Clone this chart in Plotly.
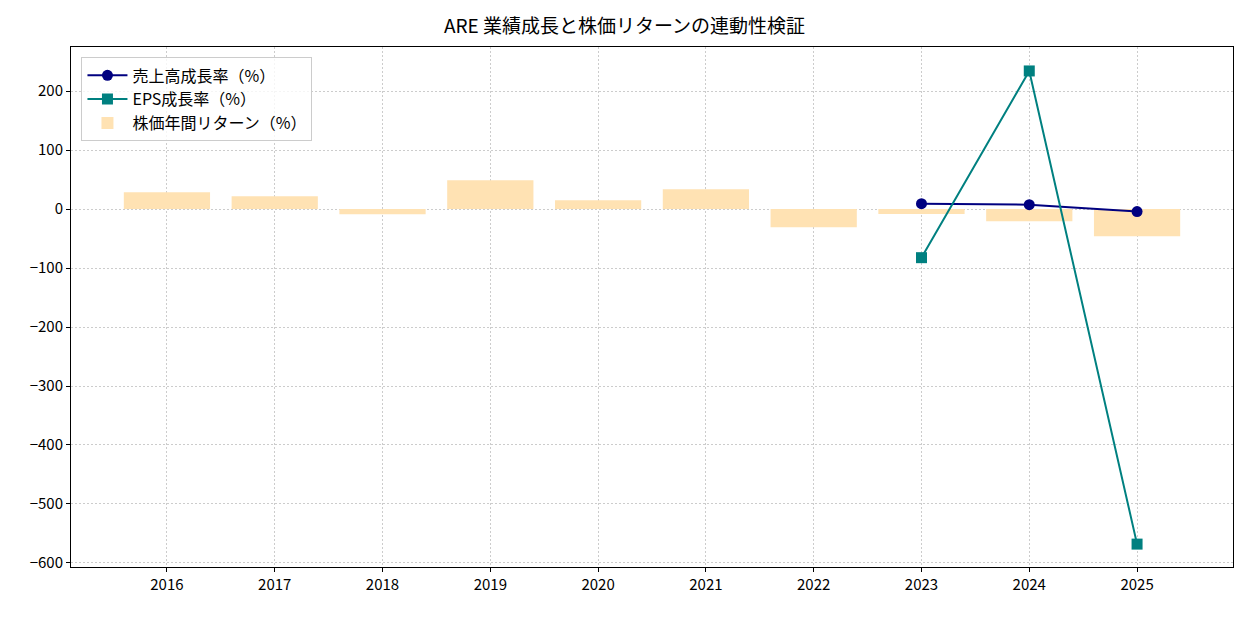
import plotly.graph_objects as go

years = [2016, 2017, 2018, 2019, 2020, 2021, 2022, 2023, 2024, 2025]
stock_return = [28.3, 21.5, -9.0, 48.6, 14.7, 33.4, -31.0, -8.5, -20.8, -46.3]
rev_years = [2023, 2024, 2025]
rev_growth = [9.0, 7.4, -4.4]
eps_growth = [-82.5, 234.0, -568.0]

FONT = "Noto Sans CJK JP"

fig = go.Figure()
fig.add_trace(go.Bar(x=years, y=stock_return, width=0.8, marker_color="#FFE2B3",
                     marker_line_width=0, name="株価年間リターン（%）", legendrank=1000))
fig.add_trace(go.Scatter(x=rev_years, y=rev_growth, mode="lines+markers",
                         line=dict(color="#000080", width=2),
                         marker=dict(symbol="circle", size=11, color="#000080"),
                         name="売上高成長率（%）", legendrank=1))
fig.add_trace(go.Scatter(x=rev_years, y=eps_growth, mode="lines+markers",
                         line=dict(color="#008080", width=2),
                         marker=dict(symbol="square", size=11, color="#008080"),
                         name="EPS成長率（%）", legendrank=2))

axis_common = dict(showline=True, linecolor="black", linewidth=1, mirror=True,
                   ticks="outside", ticklen=4, tickcolor="black",
                   showgrid=True, gridcolor="#cccccc", griddash="1.5px,2.5px", gridwidth=1,
                   zeroline=False, tickfont=dict(family=FONT, size=15, color="black"))

fig.update_layout(
    width=1249, height=617,
    paper_bgcolor="white", plot_bgcolor="white",
    margin=dict(l=71, r=16, t=47, b=50),
    title=dict(text="ARE 業績成長と株価リターンの連動性検証", x=0.5, xanchor="center",
               y=0.958, yanchor="middle",
               font=dict(family=FONT, size=19, color="black")),
    font=dict(family=FONT, color="black"),
    showlegend=True,
    legend=dict(x=0.009, y=0.98, xanchor="left", yanchor="top",
                bgcolor="rgba(255,255,255,0.8)", bordercolor="#cccccc", borderwidth=1,
                font=dict(family=FONT, size=16, color="black"),
                traceorder="normal", itemwidth=40),
    bargap=0.2,
)
fig.update_xaxes(range=[2015.11, 2025.89], tickvals=years, ticktext=[str(y) for y in years],
                 **axis_common)
fig.update_yaxes(range=[-606.8, 274.6], tickvals=[-600, -500, -400, -300, -200, -100, 0, 100, 200],
                 ticktext=["−600", "−500", "−400", "−300", "−200", "−100", "0", "100", "200"],
                 **axis_common)

fig.write_html("out.html")
